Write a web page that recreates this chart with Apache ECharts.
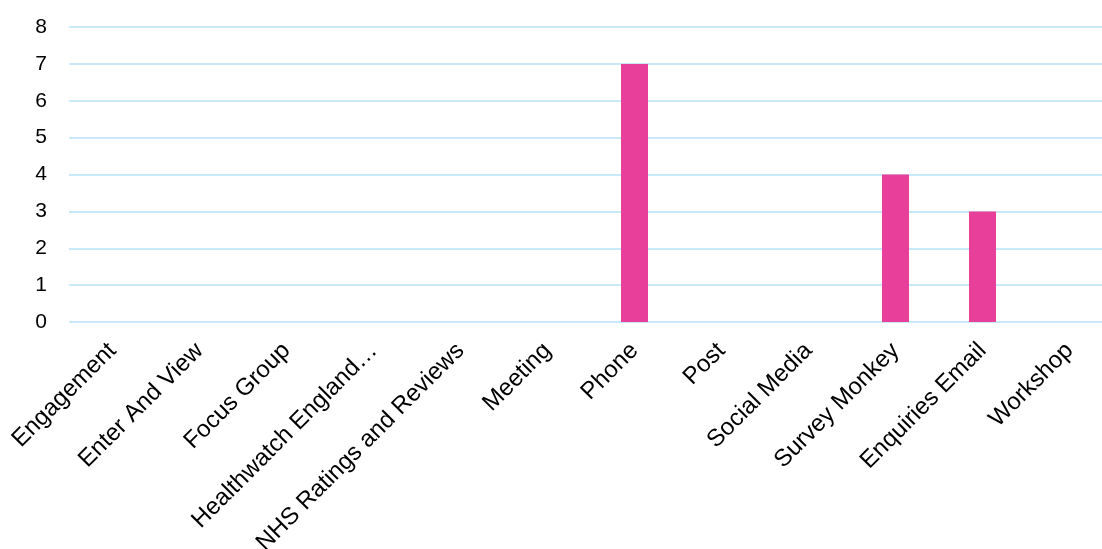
<!DOCTYPE html>
<html>
<head>
<meta charset="utf-8">
<script src="https://cdn.jsdelivr.net/npm/echarts@6/dist/echarts.min.js"></script>
<style>html,body{margin:0;padding:0;background:#fff}#c{width:1102px;height:549px}</style>
</head>
<body>
<div id="c"></div>
<script>
const categories = ["Engagement","Enter And View","Focus Group","Healthwatch England…","NHS Ratings and Reviews","Meeting","Phone","Post","Social Media","Survey Monkey","Enquiries Email","Workshop"];
const values = [0,0,0,0,0,0,7,0,0,4,3,0];
const yTicks = [0,1,2,3,4,5,6,7,8];

const chart = echarts.init(document.getElementById('c'));
chart.setOption({
  animation: false,
  grid: { left: 69, top: 27, right: -11, height: 295, containLabel: false, outerBoundsMode: 'none' },
  xAxis: {
    type: 'category',
    data: categories,
    axisLine: { show: false },
    axisTick: { show: false },
    axisLabel: { rotate: 45, margin: 25, color: '#000', fontFamily: 'Liberation Sans, Arial, sans-serif', fontSize: 24, interval: 0 }
  },
  yAxis: {
    type: 'value',
    min: yTicks[0], max: yTicks[yTicks.length-1], interval: 1,
    axisLine: { show: false },
    axisTick: { show: false },
    axisLabel: { margin: 22, color: '#000', fontFamily: 'Liberation Sans, Arial, sans-serif', fontSize: 21 },
    splitLine: { lineStyle: { color: '#C8EAF8', width: 2 } }
  },
  series: [{
    type: 'bar',
    data: values,
    barWidth: 27,
    itemStyle: { color: '#E8409A' }
  }]
});
</script>
</body>
</html>
